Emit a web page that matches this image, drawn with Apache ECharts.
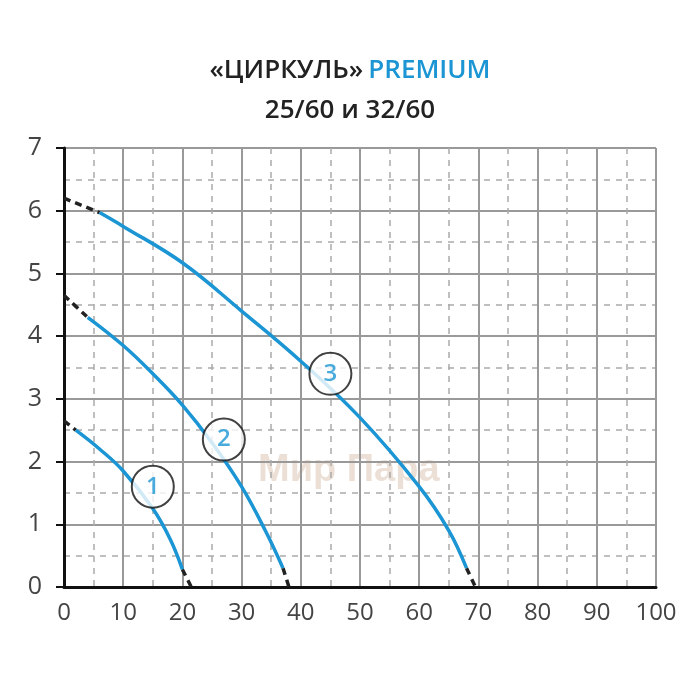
<!DOCTYPE html>
<html>
<head>
<meta charset="utf-8">
<script src="https://cdn.jsdelivr.net/npm/echarts@6/dist/echarts.min.js"></script>
<style>html,body{margin:0;background:#fff}#c{width:700px;height:700px}</style>
</head>
<body>
<div id="c"></div>
<script>
var xTicks = [0, 10, 20, 30, 40, 50, 60, 70, 80, 90, 100]
var yTicks = [0, 1, 2, 3, 4, 5, 6, 7]
// curve 1
var c1Dash = [[0, 2.65], [2, 2.5]]
var c1 = [[2, 2.5], [6, 2.2], [10, 1.85], [15, 1.25], [18, 0.75], [20, 0.28]]
var c1End = [[20, 0.28], [21.5, 0]]
// curve 2
var c2Dash = [[0, 4.65], [4, 4.3]]
var c2 = [[4, 4.3], [10, 3.85], [15, 3.4], [20, 2.9], [25, 2.3], [30, 1.6], [34, 0.9], [37, 0.3]]
var c2End = [[37, 0.3], [38, 0]]
// curve 3
var c3Dash = [[0, 6.2], [6, 5.97]]
var c3 = [[6, 5.97], [10, 5.75], [20, 5.17], [30, 4.4], [40, 3.6], [50, 2.7], [60, 1.6], [65, 0.9], [68, 0.3]]
var c3End = [[68, 0.3], [69.5, 0]]
var labels = [[15, 1.6, '1'], [27, 2.35, '2'], [45, 3.4, '3']]

var blue = '#1b95d3'
var font = 'Open Sans'
function solid (d) {
  return {type: 'line', data: d, smooth: 0.4, symbol: 'none', lineStyle: {color: blue, width: 3.5}, z: 3}
}
function dash (d) {
  return {type: 'line', data: d, smooth: true, symbol: 'none', lineStyle: {color: '#222', width: 3.5, type: [7, 5]}, z: 3}
}

var chart = echarts.init(document.getElementById('c'))
chart.setOption({
  animation: false,
  title: {
    left: 'center', top: 46,
    text: '{a|«ЦИРКУЛЬ»} {b|PREMIUM}\n{a|25/60 и 32/60}',
    textStyle: {
      lineHeight: 40,
      rich: {
        a: {fontFamily: font, fontSize: 26, fontWeight: 600, color: '#222', lineHeight: 40},
        b: {fontFamily: font, fontSize: 26, fontWeight: 600, color: blue, lineHeight: 40}
      }
    }
  },
  graphic: [{
    type: 'text', left: 258, top: 452, z: 0,
    style: {text: 'Мир Пара', fontFamily: 'Liberation Sans', fontWeight: 'bold', fontSize: 38, fill: 'rgba(190,150,120,0.3)'}
  }],
  grid: {left: 64, right: 44, top: 148, bottom: 113},
  xAxis: [{
    type: 'value', min: 0, max: 100, interval: 5,
    axisLine: {show: true, lineStyle: {color: '#111', width: 3}},
    axisTick: {show: false},
    axisLabel: {show: false},
    splitLine: {lineStyle: {color: '#aaa', width: 1.5, type: [6, 6]}}
  }, {
    type: 'value', min: 0, max: 100, interval: 10, position: 'bottom',
    axisLine: {show: false},
    axisTick: {show: false},
    axisLabel: {fontFamily: font, fontSize: 24, color: '#444', margin: 14},
    splitLine: {lineStyle: {color: '#999', width: 2}}
  }],
  yAxis: [{
    type: 'value', min: 0, max: 7, interval: 0.5,
    axisLine: {show: true, lineStyle: {color: '#111', width: 3}},
    axisTick: {show: false},
    axisLabel: {show: false},
    splitLine: {lineStyle: {color: '#aaa', width: 1.5, type: [6, 6]}}
  }, {
    type: 'value', min: 0, max: 7, interval: 1, position: 'left',
    axisLine: {show: false},
    axisTick: {show: true, length: 8, lineStyle: {color: '#111', width: 2}},
    axisLabel: {
      fontFamily: font, fontSize: 25, margin: 22,
      color: function (v) { return v === 6 ? blue : '#444' }
    },
    splitLine: {lineStyle: {color: '#999', width: 2}}
  }],
  series: [
    dash(c1Dash), solid(c1), dash(c1End),
    dash(c2Dash), solid(c2), dash(c2End),
    dash(c3Dash), solid(c3), dash(c3End),
    {
      type: 'scatter', z: 5,
      data: labels.map(function (l) { return {value: [l[0], l[1]], name: l[2]} }),
      symbol: 'circle', symbolSize: 42,
      itemStyle: {color: '#fff', borderColor: '#111', borderWidth: 2},
      label: {show: true, position: 'inside', formatter: '{b}', color: blue, fontFamily: font, fontSize: 24, fontWeight: 600}
    }
  ]
})
</script>
</body>
</html>
